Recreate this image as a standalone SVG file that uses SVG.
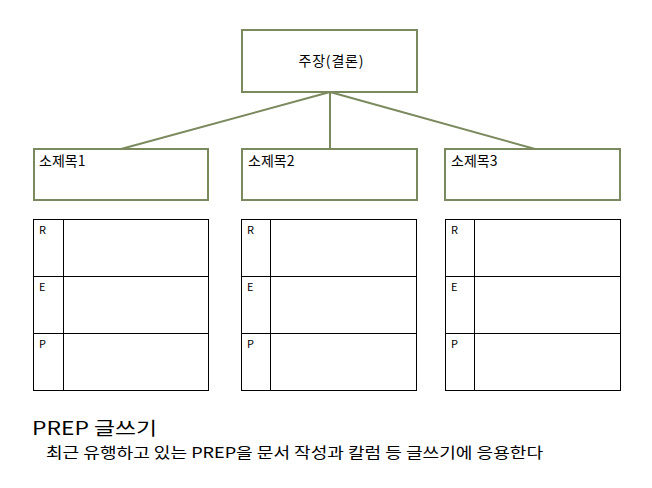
<svg xmlns="http://www.w3.org/2000/svg" width="652" height="488" viewBox="0 0 652 488">
<style>
.n{fill:#fff;stroke:#7a8a5e;stroke-width:2}
.t{fill:none;stroke:#000;stroke-width:1}
.c{stroke:#7a8a5e;stroke-width:2;fill:none}
text{font-family:"Noto Sans CJK KR","Noto Sans",sans-serif;fill:#000}
.s{font-size:14px}
.r{font-size:11px}
</style>
<rect width="652" height="488" fill="#fff"/>
<g id="connectors">
<path class="c" d="M330 92L121 149M330 92V149M330 92L535 149"/>
</g>
<g id="main"><rect class="n" x="242" y="30" width="175" height="62"/><text class="s" x="331" y="66" text-anchor="middle" textLength="65">주장(결론)</text></g>
<g id="sub1"><rect class="n" x="34" y="149" width="174" height="51"/><text class="s" x="39" y="166">소제목1</text></g>
<g id="sub2"><rect class="n" x="242" y="149" width="175" height="51"/><text class="s" x="248" y="166">소제목2</text></g>
<g id="sub3"><rect class="n" x="445" y="149" width="175" height="51"/><text class="s" x="451" y="166">소제목3</text></g>
<g id="table1"><rect class="t" x="33.5" y="219.5" width="175" height="171"/><path class="t" d="M63.5 219.5V390.5M33.5 276.5H208.5M33.5 333.5H208.5"/>
<text class="r" x="39" y="234">R</text><text class="r" x="39" y="291">E</text><text class="r" x="39" y="348">P</text></g>
<g id="table2"><rect class="t" x="241.5" y="219.5" width="175" height="171"/><path class="t" d="M270.5 219.5V390.5M241.5 276.5H416.5M241.5 333.5H416.5"/>
<text class="r" x="247" y="234">R</text><text class="r" x="247" y="291">E</text><text class="r" x="247" y="348">P</text></g>
<g id="table3"><rect class="t" x="445.5" y="219.5" width="175" height="171"/><path class="t" d="M474.5 219.5V390.5M445.5 276.5H620.5M445.5 333.5H620.5"/>
<text class="r" x="451" y="234">R</text><text class="r" x="451" y="291">E</text><text class="r" x="451" y="348">P</text></g>
<g id="caption">
<text x="32" y="435" font-size="18" textLength="125" lengthAdjust="spacingAndGlyphs">PREP 글쓰기</text>
<text x="46" y="458" font-size="15" textLength="497" lengthAdjust="spacingAndGlyphs">최근 유행하고 있는 PREP을 문서 작성과 칼럼 등 글쓰기에 응용한다</text>
</g>
</svg>
